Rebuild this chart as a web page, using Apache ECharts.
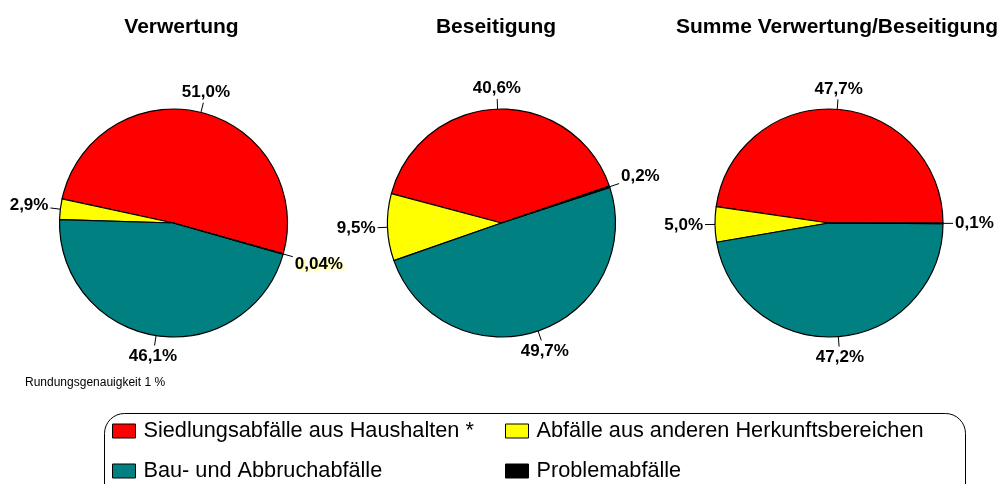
<!DOCTYPE html>
<html><head><meta charset="utf-8">
<script src="https://cdn.jsdelivr.net/npm/echarts/dist/echarts.min.js"></script>
<style>html,body{margin:0;padding:0;background:#fff}#c{width:1003px;height:484px}</style>
</head><body><div id="c"></div>
<script>
// ---- data ----
const categories = ['Siedlungsabfälle aus Haushalten *', 'Abfälle aus anderen Herkunftsbereichen', 'Bau- und Abbruchabfälle', 'Problemabfälle'];
const titles = ['Verwertung', 'Beseitigung', 'Summe Verwertung/Beseitigung'];
const verwertung = [51.0, 2.9, 46.1, 0.04];
const beseitigung = [40.6, 9.5, 49.7, 0.2];
const summe = [47.7, 5.0, 47.2, 0.1];
const noteText = 'Rundungsgenauigkeit 1 %';

// ---- style / layout ----
const colors = ['#ff0000', '#ffff00', '#008080', '#000000'];
const FONT = '"Liberation Sans", Arial, sans-serif';
const centersX = [173.5, 501.5, 829];
const titleX = [176.5, 491, 832];
const startAngles = [-15.7, 18.9, 0];

function fmt(p) {
  const v = p.value;
  return (v < 0.1 ? v.toFixed(2) : v.toFixed(1)).replace('.', ',') + '%';
}
function layoutLabel(p) {
  const pts = p.labelLinePoints;
  if (!pts) return {};
  const a = pts[0], b = pts[1];
  let dx = b[0] - a[0], dy = b[1] - a[1];
  const len = Math.hypot(dx, dy) || 1; dx /= len; dy /= len;
  const w = p.labelRect.width, h = p.labelRect.height;
  const t = Math.min(Math.abs(dx) > 1e-6 ? w / 2 / Math.abs(dx) : Infinity,
                     Math.abs(dy) > 1e-6 ? h / 2 / Math.abs(dy) : Infinity);
  const d = t + 2;
  return { x: b[0] + dx * d, y: b[1] + dy * d, align: 'center', verticalAlign: 'middle', labelLinePoints: [a, b, b] };
}

const datasets = [verwertung, beseitigung, summe];
const chart = echarts.init(document.getElementById('c'), null, {renderer: 'canvas'});
const legendCommon = {
  orient: 'vertical', top: 420, padding: 0, itemGap: 18,
  itemWidth: 23, itemHeight: 14, icon: 'rect', selectedMode: false,
  itemStyle: {borderColor: '#000', borderWidth: 1},
  textStyle: {fontSize: 21.7, color: '#000', fontFamily: FONT, padding: [0, 0, 0, 3]}
};
chart.setOption({
  animation: false,
  backgroundColor: '#fff',
  title: titles.map((t, i) => ({
    text: t, left: titleX[i], top: 12, textAlign: 'center',
    textStyle: {fontSize: 21, fontWeight: 'bold', color: '#000', fontFamily: FONT}
  })),
  legend: [
    Object.assign({data: [categories[0], categories[2]], left: 112}, legendCommon),
    Object.assign({data: [categories[1], categories[3]], left: 505}, legendCommon)
  ],
  graphic: [
    {type: 'rect', silent: true, shape: {x: 104.5, y: 413.5, width: 861, height: 110, r: 20},
     style: {fill: null, stroke: '#000', lineWidth: 1}},
    {type: 'text', silent: true, left: 25, top: 377,
     style: {text: noteText, fontSize: 12, fill: '#000', fontFamily: FONT}}
  ],
  series: datasets.map((vals, i) => ({
    type: 'pie', name: titles[i], center: [centersX[i], 223], radius: 114,
    startAngle: startAngles[i], clockwise: false, avoidLabelOverlap: false, silent: true,
    itemStyle: {borderColor: '#000', borderWidth: 1.2},
    label: {show: true, position: 'outside', formatter: fmt, color: '#000', fontSize: 17,
            fontWeight: 'bold', fontFamily: FONT},
    labelLine: {show: true, length: 10, length2: 0, lineStyle: {color: '#000', width: 1}},
    labelLayout: layoutLabel,
    emphasis: {disabled: true},
    data: vals.map((v, j) => {
      const d = {name: categories[j], value: v, itemStyle: {color: colors[j]}};
      if (v < 0.1) d.label = {textShadowColor: '#ffff80', textShadowBlur: 3, textShadowOffsetX: 2, textShadowOffsetY: 2};
      return d;
    })
  }))
});
</script>
</body></html>
